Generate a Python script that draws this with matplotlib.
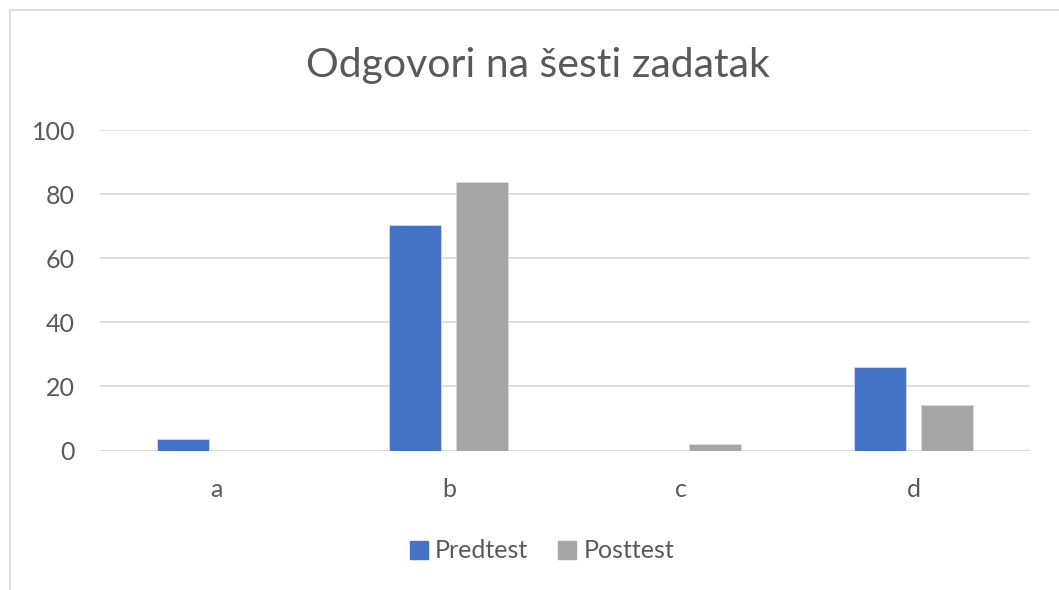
import matplotlib
matplotlib.use("Agg")
import matplotlib.pyplot as plt
from matplotlib.patches import Patch
from matplotlib.lines import Line2D
import numpy as np

categories = ["a", "b", "c", "d"]
predtest = [3.7, 70.4, 0.0, 25.9]
posttest = [0.0, 83.7, 2.0, 14.3]
series_names = ["Predtest", "Posttest"]
yticks = [0, 20, 40, 60, 80, 100]

plt.rcParams['font.family'] = ['Lato', 'DejaVu Sans']
W, H = 1059, 590
fig = plt.figure(figsize=(W / 100, H / 100), dpi=100)
ax = fig.add_axes([100 / W, 1 - 450.5 / H, 930 / W, (450.5 - 130) / H])

blue = "#4472C4"
gray = "#A5A5A5"
txt = "#595959"
x = np.arange(len(categories))
bw = 0.224
off = 0.144
ax.bar(x - off, predtest, bw, color=blue, edgecolor="#d0dcf0", linewidth=0.6, zorder=3)
ax.bar(x + off, posttest, bw, color=gray, edgecolor="#dcdcdc", linewidth=0.6, zorder=3)

ax.set_xlim(-0.5, 3.5)
ax.set_ylim(0, 100)
ax.set_yticks(yticks)
ax.set_yticklabels([str(v) for v in yticks], fontsize=18, color=txt)
ax.set_xticks(x)
ax.set_xticklabels(categories, fontsize=18, color=txt)
ax.tick_params(length=0)
ax.tick_params(axis='y', pad=18)
ax.tick_params(axis='x', pad=20)
ax.grid(axis='y', color="#D9D9D9", linewidth=1.2, zorder=0)
for s in ax.spines.values():
    s.set_visible(False)
ax.axhline(0, color="#D9D9D9", linewidth=1.5, zorder=2)

fig.text(538 / W, 1 - 66 / H, "Odgovori na šesti zadatak", ha="center", va="center",
         fontsize=29.5, color=txt)

handles = [Patch(color=blue), Patch(color=gray)]
fig.legend(handles, series_names, loc="center", bbox_to_anchor=(542 / W, 1 - 551 / H),
           ncol=2, frameon=False, fontsize=18, labelcolor=txt,
           handlelength=0.7, handleheight=0.7, handletextpad=0.3, columnspacing=1.2)

# outer chart border (top and left visible)
fig.add_artist(Line2D([10 / W, 1.0], [1 - 10 / H, 1 - 10 / H], color="#D9D9D9", linewidth=1.2))
fig.add_artist(Line2D([10 / W, 10 / W], [0, 1 - 10 / H], color="#D9D9D9", linewidth=1.2))

fig.savefig("out.png", dpi=100)
